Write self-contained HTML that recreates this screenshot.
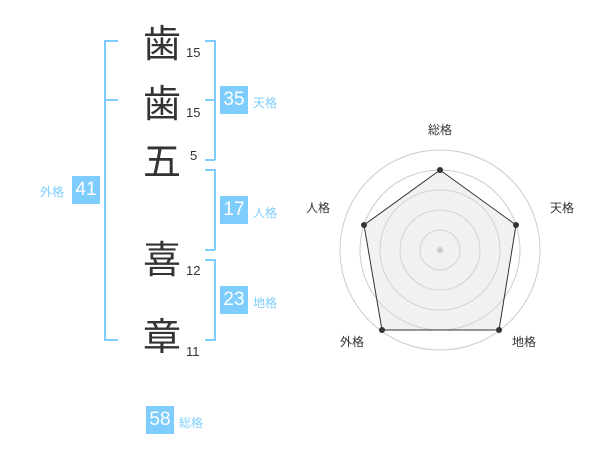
<!DOCTYPE html>
<html><head><meta charset="utf-8"><style>
body{margin:0;width:600px;height:470px;background:#fff;position:relative;font-family:"Liberation Sans","Noto Sans CJK JP",sans-serif;overflow:hidden}
.c{position:absolute;font-size:38px;color:#333;line-height:1;font-family:"Noto Sans CJK JP",sans-serif}
.n{position:absolute;font-size:13px;color:#333}
.b{position:absolute;background:#7fcdfc;color:#fff;font-size:19px;width:28px;height:28px;line-height:28px;text-align:center}
.l{position:absolute;font-size:12px;color:#7fcdfc}
.ln{position:absolute;background:#7fcdfc}
</style></head><body>
<div class="c" style="left:143px;top:22px">歯</div><div class="n" style="left:186px;top:45px">15</div>
<div class="c" style="left:143px;top:82px">歯</div><div class="n" style="left:186px;top:105px">15</div>
<div class="c" style="left:143px;top:140px">五</div><div class="n" style="left:190px;top:148px">5</div>
<div class="c" style="left:143px;top:238px">喜</div><div class="n" style="left:186px;top:263px">12</div>
<div class="c" style="left:143px;top:315px">章</div><div class="n" style="left:186px;top:344px">11</div>
<div class="ln" style="left:104px;top:40px;width:2px;height:301px"></div>
<div class="ln" style="left:104px;top:40px;width:14px;height:2px"></div>
<div class="ln" style="left:104px;top:99px;width:14px;height:2px"></div>
<div class="ln" style="left:104px;top:339px;width:14px;height:2px"></div>
<div class="b" style="left:72px;top:176px">41</div><div class="l" style="left:40px;top:183px">外格</div>
<div class="ln" style="left:214px;top:40px;width:2px;height:120px"></div>
<div class="ln" style="left:205px;top:40px;width:10px;height:2px"></div>
<div class="ln" style="left:205px;top:99px;width:10px;height:2px"></div>
<div class="ln" style="left:205px;top:159px;width:10px;height:2px"></div>
<div class="b" style="left:220px;top:86px">35</div><div class="l" style="left:253px;top:94px">天格</div>
<div class="ln" style="left:214px;top:169px;width:2px;height:81px"></div>
<div class="ln" style="left:205px;top:169px;width:10px;height:2px"></div>
<div class="ln" style="left:205px;top:249px;width:10px;height:2px"></div>
<div class="b" style="left:220px;top:196px">17</div><div class="l" style="left:253px;top:204px">人格</div>
<div class="ln" style="left:214px;top:259px;width:2px;height:82px"></div>
<div class="ln" style="left:205px;top:259px;width:10px;height:2px"></div>
<div class="ln" style="left:205px;top:339px;width:10px;height:2px"></div>
<div class="b" style="left:220px;top:286px">23</div><div class="l" style="left:253px;top:294px">地格</div>
<div class="b" style="left:146px;top:406px">58</div><div class="l" style="left:179px;top:414px">総格</div>
<svg style="position:absolute;left:0;top:0" width="600" height="470">
<g fill="none" stroke="#ccc" stroke-width="1">
<circle cx="440" cy="250" r="20"/><circle cx="440" cy="250" r="40"/><circle cx="440" cy="250" r="60"/><circle cx="440" cy="250" r="80"/><circle cx="440" cy="250" r="100"/></g>
<polygon points="440,170 516,225 499,330 382,330 364,225" fill="rgba(220,220,220,0.4)" stroke="#333" stroke-width="1"/>
<circle cx="440" cy="250" r="3" fill="#ccc"/>
<g fill="#333"><circle cx="440" cy="170" r="3"/><circle cx="516" cy="225" r="3"/><circle cx="499" cy="330" r="3"/><circle cx="382" cy="330" r="3"/><circle cx="364" cy="225" r="3"/></g>
<g font-size="12" fill="#333" font-family="Liberation Sans,Noto Sans CJK JP,sans-serif" text-anchor="middle">
<text x="440" y="134">総格</text><text x="562" y="212">天格</text><text x="318" y="212">人格</text><text x="352" y="346">外格</text><text x="524" y="346">地格</text></g>
</svg>
</body></html>
